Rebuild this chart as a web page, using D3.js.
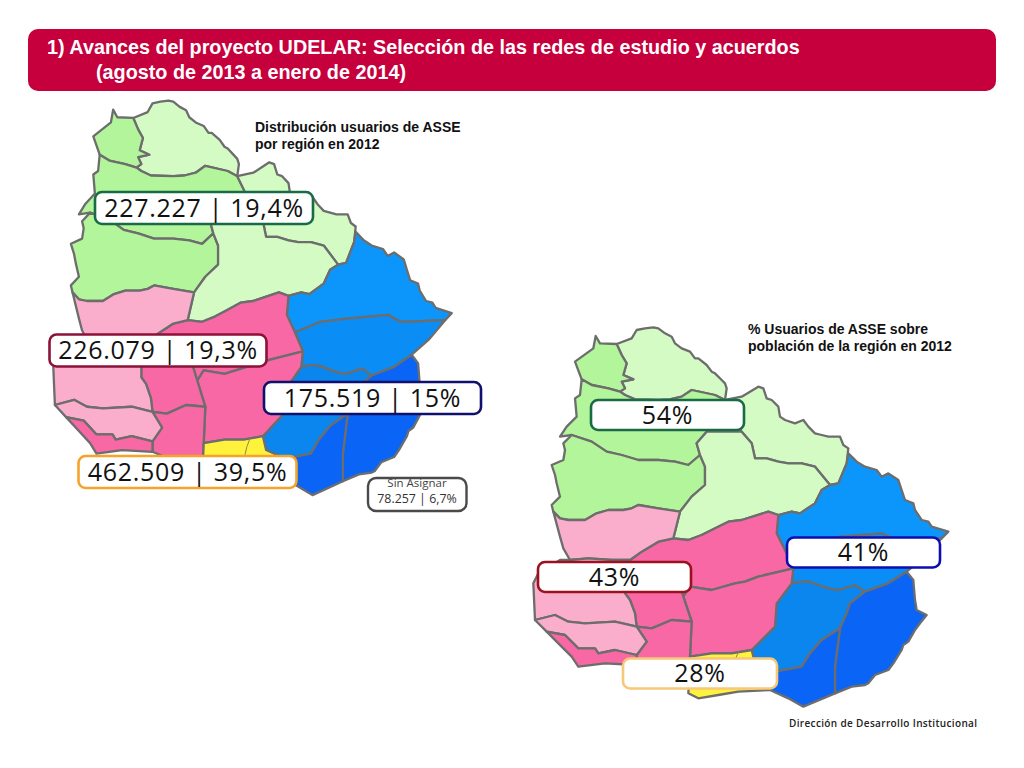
<!DOCTYPE html>
<html><head><meta charset="utf-8">
<script src="https://cdn.jsdelivr.net/npm/d3@7"></script>
<style>html,body{margin:0;padding:0;background:#fff}svg{display:block}</style>
</head><body><svg id="c" width="1024" height="768"></svg>
<script>
// ---- text & values
const titleLines = ["1) Avances del proyecto UDELAR: Selección de las redes de estudio y acuerdos","(agosto de 2013 a enero de 2014)"];
const noteLeft = ["Distribución usuarios de ASSE","por región en 2012"];
const noteRight = ["% Usuarios de ASSE sobre","población de la región en 2012"];
const footer = "Dirección de Desarrollo Institucional";
const usersCount = ["227.227","226.079","175.519","462.509"];
const usersShare = ["19,4%","19,3%","15%","39,5%"];
const unassignedName = "Sin Asignar";
const unassignedValue = "78.257 | 6,7%";
const coveragePct = ["54%","41%","43%","28%"];

// ---- department outlines in map units
const artigasW = [[212,48],[225,70],[275,72],[290,105],[305,130],[295,165],[325,178],[290,185],[300,205],[285,215],[250,205],[200,195],[170,178],[150,125],[205,85]];
const artigasE = [[275,72],[320,55],[335,30],[400,25],[440,50],[470,85],[520,115],[570,160],[605,205],[600,240],[570,225],[500,210],[470,230],[400,240],[330,238],[300,225],[285,215],[300,205],[290,185],[325,178],[295,165],[305,130],[290,105]];
const salto = [[170,178],[200,195],[250,205],[285,215],[300,225],[330,238],[400,240],[470,230],[500,210],[570,225],[600,240],[650,335],[545,335],[515,370],[525,405],[490,435],[400,420],[290,405],[200,365],[140,345],[105,350],[125,320],[155,290],[150,235],[165,225]];
const paysandu = [[140,345],[200,365],[290,405],[400,420],[490,435],[525,405],[540,440],[540,495],[500,530],[465,575],[340,555],[250,570],[180,600],[130,600],[85,575],[95,490],[80,435],[120,390]];
const rivera = [[600,240],[650,230],[700,200],[740,240],[780,300],[850,320],[910,350],[970,385],[965,430],[940,490],[915,495],[870,440],[830,430],[760,425],[690,415],[680,370],[650,335]];
const tacuarembo = [[650,335],[680,370],[690,415],[760,425],[830,430],[870,440],[915,495],[890,510],[870,550],[825,580],[760,585],[730,575],[650,600],[560,630],[490,660],[445,655],[465,575],[500,530],[540,495],[540,440],[525,405],[515,370],[545,335]];
const cerroLargo = [[970,400],[1020,440],[1090,460],[1130,510],[1170,570],[1220,620],[1270,635],[1250,655],[1110,660],[1070,640],[950,650],[860,660],[780,690],[755,640],[760,585],[825,580],[870,550],[890,510],[915,495],[940,490],[965,430]];
const treintaTres = [[780,690],[860,660],[950,650],[1070,640],[1110,660],[1250,655],[1200,710],[1145,755],[1090,790],[1020,815],[990,795],[940,810],[880,795],[830,785],[800,790],[805,745]];
const lavalleja = [[800,790],[830,785],[880,795],[940,810],[990,795],[1020,815],[975,850],[965,880],[945,925],[890,960],[855,1000],[830,1040],[750,1055],[690,1030],[680,990],[750,920],[755,850]];
const rocha = [[1020,815],[1090,790],[1145,755],[1165,780],[1170,840],[1205,885],[1170,930],[1130,990],[1090,1050],[1020,1095],[930,1120],[930,1040],[945,925],[965,880],[975,850]];
const maldonado = [[945,925],[930,1040],[930,1120],[835,1160],[790,1135],[735,1110],[750,1055],[830,1040],[855,1000],[890,960]];
const durazno = [[760,585],[730,575],[650,600],[560,630],[490,660],[445,655],[400,665],[350,695],[315,720],[300,770],[455,770],[475,830],[495,800],[560,810],[630,790],[700,770],[805,745],[780,690],[755,640]];
const florida = [[495,800],[560,810],[630,790],[700,770],[805,745],[800,790],[755,850],[750,920],[680,990],[620,1000],[560,1000],[495,1010],[500,905],[475,830]];
const flores = [[300,770],[455,770],[475,830],[500,905],[440,900],[380,925],[335,920],[330,880],[315,840],[300,820]];
const sanJose = [[335,920],[380,925],[440,900],[500,905],[495,1010],[495,1095],[400,1060],[335,1035],[335,1005],[365,965]];
const coloniaS = [[65,935],[120,945],[160,985],[210,985],[220,1000],[270,990],[335,1005],[335,1035],[240,1030],[160,1040],[140,1010],[100,970]];
const coloniaN = [[30,900],[90,885],[130,905],[180,910],[270,905],[335,920],[365,965],[335,1005],[270,990],[220,1000],[210,985],[160,985],[120,945],[65,935]];
const soriano = [[30,900],[25,790],[40,760],[105,720],[135,720],[190,715],[260,720],[315,720],[300,770],[300,820],[315,840],[330,880],[335,920],[270,905],[180,910],[130,905],[90,885]];
const rioNegro = [[85,575],[130,600],[180,600],[250,570],[340,555],[465,575],[445,655],[400,665],[350,695],[315,720],[260,720],[190,715],[135,720],[115,685],[105,650]];
const canelones = [[495,1010],[560,1000],[620,1000],[680,990],[690,1030],[750,1055],[735,1110],[640,1115],[580,1125],[520,1135],[490,1120]];
const montevideoEdge = [[640,996],[630,1020],[624,1044]];

// wiggles read along shared borders: from, via..., to
const borderDetail = [
 [[335,30],[360,25],[385,22],[400,25]],[[400,25],[420,40],[440,50]],[[440,50],[450,70],[470,85]],[[470,85],[495,95],[510,115],[520,115]],
 [[520,115],[545,135],[560,155],[570,160]],[[570,160],[590,180],[600,190],[605,205]],
 [[700,200],[715,205],[725,235],[740,240]],[[740,240],[760,260],[765,290],[780,300]],[[780,300],[810,310],[835,300],[850,320]],
 [[850,320],[870,340],[890,345],[910,350]],[[910,350],[945,350],[955,375],[970,385]],
 [[760,425],[725,415],[690,415]],[[830,430],[790,430],[760,425]],
 [[970,400],[995,425],[1020,440]],[[1020,440],[1055,450],[1070,470],[1090,460]],[[1090,460],[1120,480],[1130,510]],
 [[1130,510],[1140,540],[1165,550],[1170,570]],[[1170,570],[1190,600],[1210,605],[1220,620]],
 [[1170,840],[1175,870],[1205,885]],[[1205,885],[1185,910],[1170,930]],[[1170,930],[1150,965],[1135,975],[1130,990]],
 [[1130,990],[1105,1030],[1090,1050]],[[1090,1050],[1050,1065],[1030,1090],[1020,1095]],[[1020,1095],[980,1100],[930,1120]],
 [[80,435],[90,465],[95,490]],[[95,490],[105,530],[80,555],[85,575]],[[120,390],[115,420],[80,435]],[[140,345],[115,370],[120,390]],
 [[85,575],[105,595],[130,600]],[[130,600],[160,600],[180,600]],[[180,600],[215,580],[250,570]],[[250,570],[295,570],[320,565],[340,555]],[[340,555],[400,565],[465,575]],
 [[200,365],[245,395],[290,405]],[[290,405],[340,420],[400,420]],[[400,420],[450,425],[490,435]],
 [[400,240],[435,238],[470,230]],[[760,585],[800,575],[825,580]],[[650,600],[610,605],[560,630]],[[560,630],[530,645],[490,660]],
 [[630,790],[660,785],[700,770]],[[830,785],[850,785],[880,795]],[[880,795],[910,805],[940,810]]
];

const departments = [artigasE,artigasW,salto,paysandu,rivera,tacuarembo,cerroLargo,treintaTres,lavalleja,rocha,maldonado,durazno,florida,flores,sanJose,rioNegro,soriano,coloniaN,coloniaS,canelones];
const fills = ["#d5fbc4","#b3f59b","#b3f59b","#b3f59b","#d5fbc4","#d5fbc4","#0c96fb","#0a8df5","#0a86ee","#0a64f5","#0a64f5","#f768a5","#f768a5","#f768a5","#f768a5","#fbaecb","#fbaecb","#fbaecb","#f768a5","#fff23c"];

// expand each polygon with the wiggles of its edges, in either direction
const detailMap = new Map();
borderDetail.forEach(b=>{
  detailMap.set(b[0]+"|"+b[b.length-1], b.slice(1,-1));
  detailMap.set(b[b.length-1]+"|"+b[0], b.slice(1,-1).reverse());
});
const detailed = poly => poly.flatMap((p,i)=>{
  const q = poly[(i+1)%poly.length];
  return [p, ...(detailMap.get(p+"|"+q)||[])];
});

// ---- drawing
const svg = d3.select("#c");
const sans = "'Liberation Sans',Arial,sans-serif", label = "'Open Sans',sans-serif";

svg.append("rect").attr("x",28).attr("y",29).attr("width",968).attr("height",62).attr("rx",10).attr("fill","#c6003d");
svg.selectAll(".t").data(titleLines).join("text").attr("x",(d,i)=>i?96:47).attr("y",(d,i)=>i?79:54)
  .attr("fill","#fff").attr("font-family",sans).attr("font-weight",700).attr("font-size",19.8).text(d=>d);

function drawMap(xRange,yRange){
  const x = d3.scaleLinear().domain([0,1320]).range(xRange);
  const y = d3.scaleLinear().domain([0,1200]).range(yRange);
  const line = d3.line().x(d=>x(d[0])).y(d=>y(d[1])).curve(d3.curveLinearClosed);
  svg.append("g").selectAll("path").data(departments).join("path")
    .attr("d",d=>line(detailed(d))).attr("fill",(d,i)=>fills[i]).attr("stroke","#6d6d6d")
    .attr("stroke-width",2.3).attr("stroke-linejoin","round");
  svg.append("path").attr("d",d3.line().x(d=>x(d[0])).y(d=>y(d[1]))(montevideoEdge))
    .attr("fill","none").attr("stroke","#8a8a50").attr("stroke-width",1);
}
drawMap([45.3,467.7],[93,509]);
drawMap([525,965],[320,720]);

function note(lines,x,y0){
  svg.append("g").selectAll("text").data(lines).join("text").attr("x",x).attr("y",(d,i)=>y0+i*17)
    .attr("font-family",sans).attr("font-weight",700).attr("font-size",14).attr("fill","#111").text(d=>d);
}
note(noteLeft,255,132);
note(noteRight,748,334);

function badge(x,y,w,h,color,txt,size){
  svg.append("rect").attr("x",x).attr("y",y).attr("width",w).attr("height",h).attr("rx",7)
    .attr("fill","#fff").attr("stroke",color).attr("stroke-width",2.6);
  svg.append("text").attr("x",x+w/2).attr("y",y+h/2+size*0.35).attr("text-anchor","middle")
    .attr("font-family",label).attr("font-size",size).attr("letter-spacing",0.7).attr("fill","#111").text(txt);
}
const fullLabel = i => usersCount[i]+" | "+usersShare[i];
badge(95,192,218,32,"#1a6b45",fullLabel(0),25);
badge(49.5,334.5,217,32,"#8c1238",fullLabel(1),25);
badge(264,382,217,32,"#10106e",fullLabel(2),25);
badge(78.5,456,218,32,"#f5a32a",fullLabel(3),25);

svg.append("rect").attr("x",368).attr("y",478).attr("width",98.5).attr("height",33).attr("rx",8)
  .attr("fill","#fff").attr("stroke","#4a4a4a").attr("stroke-width",2.4);
svg.append("text").attr("x",417).attr("y",487).attr("text-anchor","middle").attr("font-family",label).attr("font-size",11.5).attr("fill","#444").text(unassignedName);
svg.append("text").attr("x",417).attr("y",503).attr("text-anchor","middle").attr("font-family",label).attr("font-size",12.4).attr("fill","#333").text(unassignedValue);

badge(591,400,153,30,"#1a6b45",coveragePct[0],25);
badge(787,537.5,153,30,"#0d0db0",coveragePct[1],25);
badge(538,562,153,30,"#9c1020",coveragePct[2],25);
badge(623,658.5,154,30,"#f6c878",coveragePct[3],25);

svg.append("text").attr("x",789).attr("y",727).attr("font-family",label).attr("font-weight",600)
  .attr("font-size",10).attr("letter-spacing",0.35).attr("fill","#222").text(footer);
</script></body></html>
